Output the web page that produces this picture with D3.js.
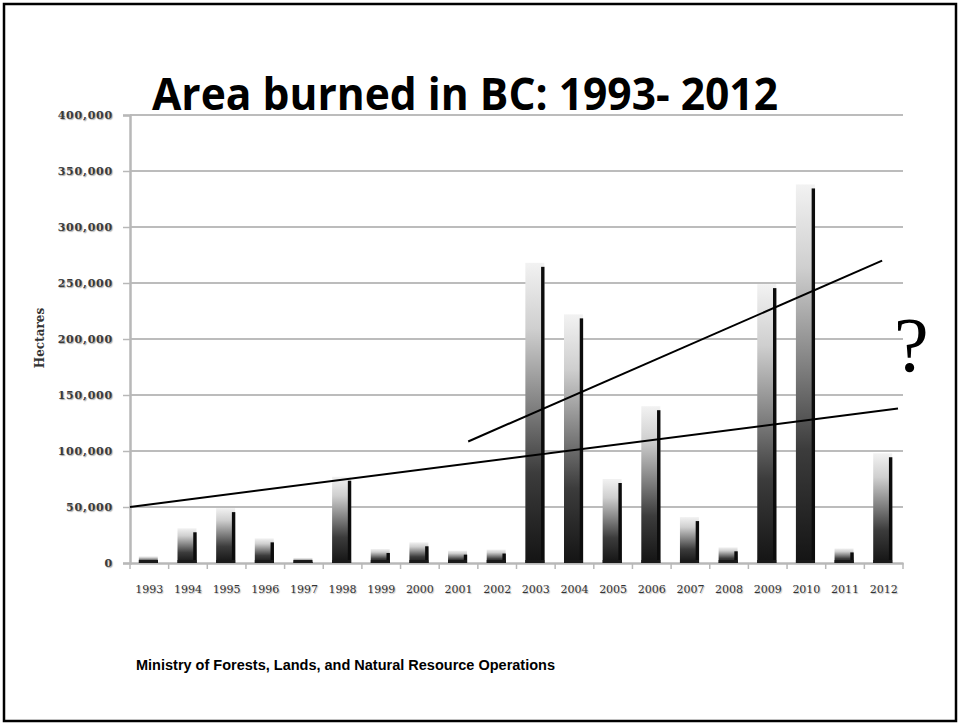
<!DOCTYPE html>
<html>
<head>
<meta charset="utf-8">
<script src="https://cdn.jsdelivr.net/npm/d3@7"></script>
<style>
  html, body { margin: 0; padding: 0; background: #fff; }
  svg { display: block; }
</style>
</head>
<body>
<script>
// ---- data ----
const years = ["1993","1994","1995","1996","1997","1998","1999","2000","2001","2002",
               "2003","2004","2005","2006","2007","2008","2009","2010","2011","2012"];
const hectares = [6000, 31000, 49000, 22000, 4500, 77000, 12500, 18500, 11000, 12000,
                  268000, 222000, 75000, 140000, 41000, 14000, 249000, 338000, 13000, 98000];
const yTicks = [0, 50000, 100000, 150000, 200000, 250000, 300000, 350000, 400000];
// hand-drawn trend lines: [year position, value]
const trendLong = [[1992.5, 50000], [2012.37, 138000]];
const trendShort = [[2001.25, 108500], [2011.96, 270000]];

const W = 960, H = 723;
const svg = d3.select("body").append("svg").attr("width", W).attr("height", H);

const defs = svg.append("defs");
const grad = defs.append("linearGradient").attr("id", "barGrad")
  .attr("x1", 0).attr("y1", 0).attr("x2", 0).attr("y2", 1);
[[0, "#f2f2f2"], [0.22, "#cfcfcf"], [0.48, "#808080"], [0.7, "#3c3c3c"], [1, "#141414"]]
  .forEach(([o, c]) => grad.append("stop").attr("offset", o).attr("stop-color", c));

// slide frame
svg.append("rect").attr("x", 4).attr("y", 4).attr("width", 952).attr("height", 717)
  .attr("fill", "none").attr("stroke", "#000").attr("stroke-width", 2.5);

const pL = 130, pR = 903, pT = 115, pB = 563;
const x = d3.scaleBand().domain(years).range([pL, pR]).paddingInner(0).paddingOuter(0);
const xc = d3.scaleLinear().domain([1992.5, 2012.5]).range([pL, pR]);
const y = d3.scaleLinear().domain([0, 400000]).range([pB, pT]);

// gridlines
const g = svg.append("g");
g.selectAll("line.grid").data(yTicks.slice(1)).join("line")
  .attr("class", "grid")
  .attr("x1", pL).attr("x2", pR)
  .attr("y1", d => y(d)).attr("y2", d => y(d))
  .attr("stroke", "#bcbcbc").attr("stroke-width", 2.2);

// y axis
const yAxis = d3.axisLeft(y).tickValues(yTicks).tickSize(7).tickPadding(10)
  .tickFormat(d3.format(","));
const ya = svg.append("g").attr("transform", `translate(${pL},0)`).call(yAxis);
ya.select(".domain").attr("stroke", "#b8b8b8").attr("stroke-width", 2.5);
ya.selectAll(".tick line").attr("stroke", "#b8b8b8").attr("stroke-width", 1.5);
ya.selectAll(".tick text")
  .attr("font-family", "DejaVu Serif, serif").attr("font-size", 11)
  .attr("font-weight", "bold").attr("letter-spacing", "0.8px")
  .attr("fill", "#3a3a3a")
  .style("text-shadow", "1px 1px 1px #aaa");

// x axis
const xAxis = d3.axisBottom(x).tickSize(0).tickPadding(22);
const xa = svg.append("g").attr("transform", `translate(0,${pB})`).call(xAxis);
xa.select(".domain").attr("stroke", "#b8b8b8").attr("stroke-width", 2.5);
xa.selectAll(".tick text")
  .attr("font-family", "DejaVu Serif, serif").attr("font-size", 11)
  .attr("fill", "#333").style("text-shadow", "1px 1px 1px #bbb");
// tick marks at band boundaries
xa.selectAll("line.bt").data(years.concat(["end"])).join("line")
  .attr("class", "bt")
  .attr("x1", (d, i) => pL + i * x.bandwidth())
  .attr("x2", (d, i) => pL + i * x.bandwidth())
  .attr("y1", 0).attr("y2", 6)
  .attr("stroke", "#b8b8b8").attr("stroke-width", 1.5);

// bars
const bw = x.bandwidth() * 0.49;
const bars = svg.append("g");
const bar = bars.selectAll("g.bar").data(years.map((yr, i) => ({ yr, v: hectares[i] })))
  .join("g").attr("class", "bar");
bar.append("rect")
  .attr("x", d => x(d.yr) + x.bandwidth() / 2 - bw / 2 - 1)
  .attr("y", d => y(d.v))
  .attr("width", bw)
  .attr("height", d => pB - y(d.v))
  .attr("fill", "url(#barGrad)");
bar.append("rect")
  .attr("x", d => x(d.yr) + x.bandwidth() / 2 + bw / 2 - 4.2)
  .attr("y", d => y(d.v) + 4)
  .attr("width", 3.4)
  .attr("height", d => Math.max(0, pB - y(d.v) - 4))
  .attr("fill", "#0c0c0c");
bar.append("rect")
  .attr("x", d => x(d.yr) + x.bandwidth() / 2 - bw / 2 - 1)
  .attr("y", pB - 3)
  .attr("width", bw)
  .attr("height", 3)
  .attr("fill", "#1a1a1a");

// trend lines
const line = d3.line().x(d => xc(d[0])).y(d => y(d[1]));
svg.append("path").datum(trendLong).attr("d", line)
  .attr("fill", "none").attr("stroke", "#000").attr("stroke-width", 2);
svg.append("path").datum(trendShort).attr("d", line)
  .attr("fill", "none").attr("stroke", "#000").attr("stroke-width", 2);

// title
svg.append("text").attr("x", 152).attr("y", 110)
  .attr("font-family", "Open Sans, Liberation Sans, sans-serif").attr("font-weight", "bold")
  .attr("font-size", 44).attr("fill", "#000")
  .attr("textLength", 626).attr("lengthAdjust", "spacingAndGlyphs")
  .text("Area burned in BC: 1993- 2012");

// y label
svg.append("text").attr("transform", "translate(44,338) rotate(-90)")
  .attr("text-anchor", "middle")
  .attr("font-family", "DejaVu Serif, serif").attr("font-weight", "bold")
  .attr("font-size", 12).attr("fill", "#333")
  .text("Hectares");

// question mark
svg.append("text").attr("x", 894).attr("y", 371)
  .attr("font-family", "Liberation Serif, serif").attr("font-size", 78).attr("fill", "#000")
  .text("?");

// source
svg.append("text").attr("x", 136).attr("y", 670)
  .attr("font-family", "Liberation Sans, Arial, sans-serif").attr("font-weight", "bold")
  .attr("font-size", 14.5).attr("fill", "#000")
  .text("Ministry of Forests, Lands, and Natural Resource Operations");
</script>
</body>
</html>
